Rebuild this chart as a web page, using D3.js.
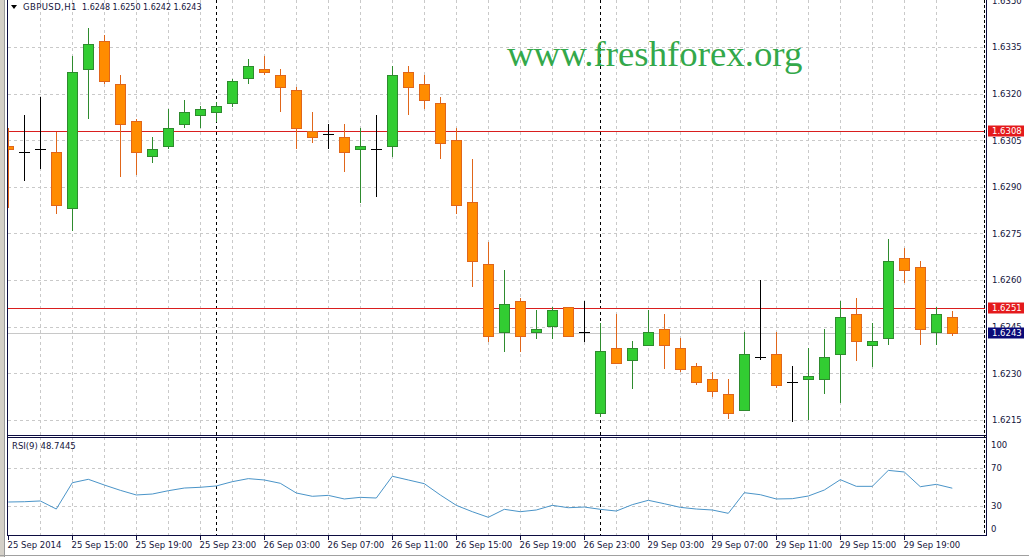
<!DOCTYPE html>
<html><head><meta charset="utf-8">
<script src="https://cdn.jsdelivr.net/npm/d3@7"></script>
<style>
body{margin:0;background:#fff;overflow:hidden}
text{font-family:"DejaVu Sans",sans-serif;}
</style>
</head><body>
<svg id="c" width="1029" height="557"></svg>
<script>
// ---------------- DATA ----------------
const barTimes = [
 "25 Sep 11:00","25 Sep 12:00","25 Sep 13:00","25 Sep 14:00","25 Sep 15:00","25 Sep 16:00","25 Sep 17:00","25 Sep 18:00","25 Sep 19:00","25 Sep 20:00","25 Sep 21:00","25 Sep 22:00","25 Sep 23:00",
 "26 Sep 00:00","26 Sep 01:00","26 Sep 02:00","26 Sep 03:00","26 Sep 04:00","26 Sep 05:00","26 Sep 06:00","26 Sep 07:00","26 Sep 08:00","26 Sep 09:00","26 Sep 10:00","26 Sep 11:00","26 Sep 12:00",
 "26 Sep 13:00","26 Sep 14:00","26 Sep 15:00","26 Sep 16:00","26 Sep 17:00","26 Sep 18:00","26 Sep 19:00","26 Sep 20:00","26 Sep 21:00","26 Sep 22:00","26 Sep 23:00",
 "29 Sep 00:00","29 Sep 01:00","29 Sep 02:00","29 Sep 03:00","29 Sep 04:00","29 Sep 05:00","29 Sep 06:00","29 Sep 07:00","29 Sep 08:00","29 Sep 09:00","29 Sep 10:00","29 Sep 11:00",
 "29 Sep 12:00","29 Sep 13:00","29 Sep 14:00","29 Sep 15:00","29 Sep 16:00","29 Sep 17:00","29 Sep 18:00","29 Sep 19:00","29 Sep 20:00","29 Sep 21:00","29 Sep 22:00"
];
const openP  = [1.63031,1.63012,1.63022,1.63012,1.62832,1.63279,1.63369,1.63231,1.63112,1.62999,1.63031,1.63102,1.63131,1.63141,1.63170,1.63250,1.63279,1.63260,1.63212,1.63080,
                1.63070,1.63060,1.63022,1.63022,1.63031,1.63270,1.63231,1.63170,1.63051,1.62851,1.62651,1.62433,1.62532,1.62433,1.62452,1.62513,1.62433,1.62172,1.62381,1.62342,
                1.62391,1.62442,1.62381,1.62323,1.62281,1.62233,1.62182,1.62352,1.62362,1.62272,1.62281,1.62281,1.62362,1.62491,1.62391,1.62413,1.62671,1.62642,1.62433,1.62480];
const highP  = [1.63089,1.63131,1.63189,1.63076,1.63321,1.63411,1.63389,1.63260,1.63118,1.63060,1.63150,1.63179,1.63160,1.63173,1.63247,1.63311,1.63321,1.63279,1.63221,1.63141,
                1.63102,1.63102,1.63089,1.63131,1.63289,1.63289,1.63260,1.63189,1.63089,1.62989,1.62722,1.62632,1.62542,1.62503,1.62513,1.62513,1.62532,1.62462,1.62491,1.62404,
                1.62503,1.62491,1.62413,1.62333,1.62304,1.62281,1.62433,1.62600,1.62433,1.62323,1.62381,1.62442,1.62532,1.62542,1.62462,1.62732,1.62703,1.62661,1.62513,1.62500];
const lowP   = [1.62832,1.62919,1.62957,1.62812,1.62758,1.63118,1.63231,1.62932,1.62938,1.62977,1.63022,1.63089,1.63089,1.63109,1.63157,1.63231,1.63260,1.63141,1.63022,1.63041,
                1.63022,1.62948,1.62848,1.62867,1.62996,1.63131,1.63150,1.62989,1.62812,1.62577,1.62400,1.62368,1.62368,1.62410,1.62410,1.62420,1.62400,1.62159,1.62333,1.62249,
                1.62391,1.62313,1.62304,1.62262,1.62223,1.62153,1.62182,1.62342,1.62252,1.62143,1.62149,1.62233,1.62204,1.62339,1.62320,1.62391,1.62590,1.62391,1.62391,1.62420];
const closeP = [1.63022,1.63012,1.63022,1.62841,1.63270,1.63360,1.63241,1.63102,1.63012,1.63022,1.63089,1.63141,1.63150,1.63160,1.63241,1.63289,1.63270,1.63221,1.63089,1.63060,
                1.63070,1.63012,1.63031,1.63022,1.63260,1.63221,1.63179,1.63041,1.62841,1.62661,1.62420,1.62523,1.62420,1.62442,1.62503,1.62420,1.62433,1.62371,1.62333,1.62381,
                1.62433,1.62391,1.62313,1.62272,1.62243,1.62172,1.62362,1.62352,1.62262,1.62272,1.62291,1.62352,1.62481,1.62404,1.62404,1.62661,1.62632,1.62442,1.62491,1.62430];
const rsiValues = [34.2,34.5,35.3,26.8,54.5,58.1,52.1,46.5,41.6,42.6,46.1,48.9,49.7,51.1,55.6,58.8,57.4,53.9,43.7,40.2,
                   41.2,37.4,39.1,38.4,61.3,57.4,53.5,41.6,30.7,24.0,18.1,26.5,24.0,25.8,30.7,28.2,28.9,26.5,24.7,31.4,
                   36.0,32.4,28.6,26.8,25.8,22.3,44.0,41.9,37.4,37.7,40.5,46.8,57.7,50.7,50.7,67.5,65.8,50.3,52.8,48.74];
const timeTickKeys = ["25 Sep 11:00","25 Sep 15:00","25 Sep 19:00","25 Sep 23:00","26 Sep 03:00","26 Sep 07:00","26 Sep 11:00","26 Sep 15:00",
                      "26 Sep 19:00","26 Sep 23:00","29 Sep 03:00","29 Sep 07:00","29 Sep 11:00","29 Sep 15:00","29 Sep 19:00"];
const timeTickLabels = ["25 Sep 2014","25 Sep 15:00","25 Sep 19:00","25 Sep 23:00","26 Sep 03:00","26 Sep 07:00","26 Sep 11:00","26 Sep 15:00",
                        "26 Sep 19:00","26 Sep 23:00","29 Sep 03:00","29 Sep 07:00","29 Sep 11:00","29 Sep 15:00","29 Sep 19:00"];
const daySeparators = ["26 Sep 00:00","29 Sep 00:00"];
const priceTicks = [1.6350,1.6335,1.6320,1.6305,1.6290,1.6275,1.6260,1.6245,1.6230,1.6215];
const rsiTicks = [100,70,30,0];
const rsiGrid = [70,30];
const hLevels = [1.6308,1.6251];
const bidPrice = 1.6243;
const symbolTitle = "GBPUSD,H1";
const rsiTitle = "RSI(9) 48.7445";
const watermark = "www.freshforex.org";

// ---------------- LAYOUT ----------------
const svg = d3.select("#c");
const plotL = 8, plotR = 985, mainT = 0, mainB = 435, rsiT = 437, rsiB = 535;
const x = d3.scaleBand().domain(barTimes).range([0.3, 960.3]);
const cx = t => x(t) + x.bandwidth()/2;
const px = t => Math.round(cx(t)) + 0.5;
const y = d3.scaleLinear().domain([1.6215, 1.6335]).range([419.8, 47]);
const yr = d3.scaleLinear().domain([0, 100]).range([534.5, 439.5]);
const bars = barTimes.map((t,i)=>({t, o:openP[i], h:highP[i], l:lowP[i], c:closeP[i]}));

svg.append("rect").attr("width",1029).attr("height",557).attr("fill","#fff");

const defs = svg.append("defs");
defs.append("clipPath").attr("id","mclip").append("rect").attr("x",plotL).attr("y",mainT).attr("width",plotR-plotL).attr("height",mainB-mainT);
defs.append("clipPath").attr("id","rclip").append("rect").attr("x",plotL).attr("y",rsiT).attr("width",plotR-plotL).attr("height",rsiB-rsiT);

const gridColor = "#c9c9c9";
const vGrid = barTimes.filter((t,i)=> i%2===0 && i>0);
[[mainT,mainB],[rsiT,rsiB]].forEach(([a,b])=>{
  svg.append("g").selectAll("line").data(vGrid).join("line")
    .attr("x1",px).attr("x2",px).attr("y1",a).attr("y2",b)
    .attr("stroke",gridColor).attr("stroke-dasharray","3,3").attr("stroke-width",1);
});
svg.append("g").attr("clip-path","url(#mclip)").selectAll("line").data(priceTicks.slice(1)).join("line")
  .attr("x1",plotL).attr("x2",plotR)
  .attr("y1",d=>Math.round(y(d))+0.5).attr("y2",d=>Math.round(y(d))+0.5)
  .attr("stroke",gridColor).attr("stroke-dasharray","3,3");
svg.append("g").selectAll("line").data(rsiGrid).join("line")
  .attr("x1",plotL).attr("x2",plotR)
  .attr("y1",d=>Math.round(yr(d))+0.5).attr("y2",d=>Math.round(yr(d))+0.5)
  .attr("stroke",gridColor).attr("stroke-dasharray","3,3");

svg.append("g").selectAll("line").data(daySeparators).join("line")
  .attr("x1",px).attr("x2",px).attr("y1",mainT).attr("y2",rsiB)
  .attr("stroke","#000").attr("stroke-dasharray","3,3");

svg.append("text").attr("x",507).attr("y",66).text(watermark)
  .style("font-family","'Liberation Serif','Times New Roman',serif").style("font-size","36.8px")
  .attr("fill","#33a84a");

svg.append("line").attr("x1",plotL).attr("x2",plotR)
  .attr("y1",Math.round(y(bidPrice))+0.5).attr("y2",Math.round(y(bidPrice))+0.5)
  .attr("stroke","#c8c8c8");
svg.append("g").selectAll("line").data(hLevels).join("line")
  .attr("x1",plotL-1).attr("x2",plotR)
  .attr("y1",d=>Math.round(y(d))+0.5).attr("y2",d=>Math.round(y(d))+0.5)
  .attr("stroke","#d91e1e");

const bullFill="#32cd32", bullStroke="#2e8b2e", bearFill="#ff8c00", bearStroke="#e0661a";
const kind = d => d.c>d.o ? "bull" : (d.c<d.o ? "bear" : "doji");
const cg = svg.append("g").attr("clip-path","url(#mclip)");
cg.selectAll("line.w").data(bars).join("line").attr("class","w")
  .attr("x1",d=>px(d.t)).attr("x2",d=>px(d.t))
  .attr("y1",d=>Math.round(y(d.h))).attr("y2",d=>Math.round(y(d.l)))
  .attr("stroke",d=>kind(d)==="bull"?bullStroke:kind(d)==="bear"?bearStroke:"#000");
cg.selectAll("rect.b").data(bars.filter(d=>kind(d)!=="doji")).join("rect").attr("class","b")
  .attr("x",d=>Math.round(cx(d.t))-4.5)
  .attr("width",10)
  .attr("y",d=>Math.round(y(Math.max(d.o,d.c)))+0.5)
  .attr("height",d=>Math.max(0, Math.round(y(Math.min(d.o,d.c))) - Math.round(y(Math.max(d.o,d.c)))))
  .attr("fill",d=>kind(d)==="bull"?bullFill:bearFill)
  .attr("stroke",d=>kind(d)==="bull"?bullStroke:bearStroke);
cg.selectAll("line.d").data(bars.filter(d=>kind(d)==="doji")).join("line").attr("class","d")
  .attr("x1",d=>Math.round(cx(d.t))-5).attr("x2",d=>Math.round(cx(d.t))+6)
  .attr("y1",d=>Math.round(y(d.o))+0.5).attr("y2",d=>Math.round(y(d.o))+0.5)
  .attr("stroke","#000");

svg.append("path").datum(rsiValues).attr("clip-path","url(#rclip)")
  .attr("d", d3.line().x((v,i)=>cx(barTimes[i])).y(v=>yr(v)))
  .attr("fill","none").attr("stroke","#4a94c8").attr("stroke-width",1);

const navy="#0c0c40";
svg.append("line").attr("x1",plotL-1).attr("x2",plotR+2).attr("y1",mainB+0.5).attr("y2",mainB+0.5).attr("stroke",navy);
svg.append("line").attr("x1",plotL-1).attr("x2",plotR+2).attr("y1",rsiT+0.5).attr("y2",rsiT+0.5).attr("stroke",navy);
svg.append("line").attr("x1",plotL-1).attr("x2",plotR+2).attr("y1",rsiB+0.5).attr("y2",rsiB+0.5).attr("stroke",navy);
svg.append("line").attr("x1",7.5).attr("x2",7.5).attr("y1",0).attr("y2",rsiB+1).attr("stroke",navy);
svg.append("line").attr("x1",plotR-0.5).attr("x2",plotR-0.5).attr("y1",0).attr("y2",rsiB).attr("stroke","#000").attr("stroke-dasharray","3,2");
svg.append("line").attr("x1",plotR+1.5).attr("x2",plotR+1.5).attr("y1",0).attr("y2",rsiB+1).attr("stroke",navy);
svg.append("rect").attr("x",0).attr("y",0).attr("width",4).attr("height",557).attr("fill","#d4d0c8");
svg.append("line").attr("x1",4.5).attr("x2",4.5).attr("y1",0).attr("y2",557).attr("stroke","#9a9a9a");
svg.append("line").attr("x1",0).attr("x2",1029).attr("y1",555.5).attr("y2",555.5).attr("stroke","#a0a0a0");

const txtColor = "#14143c";
const xAxis = d3.axisBottom(x).tickValues(timeTickKeys).tickSize(4)
  .tickFormat((d,i)=>timeTickLabels[i]);
const gx = svg.append("g").attr("transform",`translate(0,${rsiB+1})`).call(xAxis);
gx.select(".domain").remove();
gx.selectAll(".tick").attr("transform",d=>`translate(${px(d)},0)`);
gx.selectAll(".tick line").attr("stroke",navy);
gx.selectAll(".tick text").attr("text-anchor","start").attr("x",-1).attr("y",12).attr("dy",0)
  .style("font-size","8.5px").attr("fill",txtColor);

const yAxis = d3.axisRight(y).tickValues(priceTicks).tickSize(0).tickFormat(d3.format(".4f"));
const gy = svg.append("g").attr("transform",`translate(${plotR+2},0)`).call(yAxis);
gy.select(".domain").remove();
gy.selectAll(".tick text").attr("x",5).attr("dy","0.35em").style("font-size","8.5px").attr("fill",txtColor);

const gr = svg.append("g").attr("transform",`translate(${plotR+2},0)`);
gr.selectAll("text").data(rsiTicks).join("text")
  .attr("x",4)
  .attr("y",d=> d===100 ? yr(d)+8 : d===0 ? yr(d)-3 : yr(d)+3)
  .text(d=>d).style("font-size","8.5px").attr("fill",txtColor);

const boxes = hLevels.map(v=>({v, fill:"#e41a1c"})).concat([{v:bidPrice, fill:"#0a0a78"}]);
const gb = svg.append("g");
boxes.forEach(b=>{
  const yy = y(b.v);
  gb.append("rect").attr("x",plotR+3).attr("y",Math.round(yy)-5.5).attr("width",36).attr("height",11).attr("fill",b.fill);
  gb.append("text").attr("x",plotR+7).attr("y",yy).attr("dy","0.35em").text(d3.format(".4f")(b.v))
    .style("font-size","8.5px").attr("fill","#fff");
});

// titles
svg.append("path").attr("d","M11,5 L17,5 L14,9 Z").attr("fill","#000");
svg.append("text").attr("x",23).attr("y",10).text(symbolTitle)
  .style("font-size","8.5px").style("letter-spacing","0.4px").attr("fill",txtColor);
const ohlcLast = [openP[59],highP[59],lowP[59],closeP[59]];
const titleNumX = [82,112.5,143,173.5];
svg.append("g").selectAll("text").data(ohlcLast).join("text")
  .attr("x",(d,i)=>titleNumX[i]).attr("y",10).text(d3.format(".4f"))
  .style("font-size","8px").attr("fill",txtColor);
svg.append("text").attr("x",12).attr("y",449).text(rsiTitle).style("font-size","8.5px").attr("fill",txtColor);
</script>
</body></html>
